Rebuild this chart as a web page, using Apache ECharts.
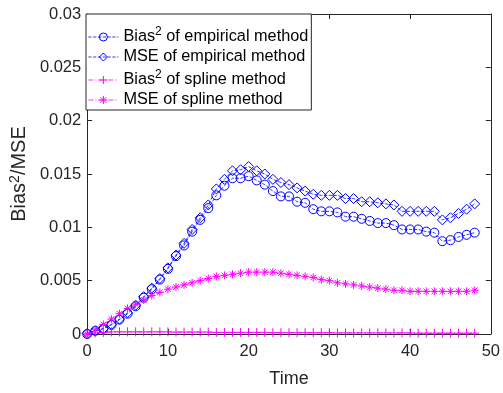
<!DOCTYPE html>
<html>
<head>
<meta charset="utf-8">
<script src="https://cdn.jsdelivr.net/npm/echarts@6/dist/echarts.min.js"></script>
<style>
html,body{margin:0;padding:0;background:#fff;}
#chart{width:503px;height:393px;}
</style>
</head>
<body>
<div id="chart"></div>
<script>
// ---- data ----
var time = [0,1,2,3,4,5,6,7,8,9,10,11,12,13,14,15,16,17,18,19,20,21,22,23,24,25,26,27,28,29,30,31,32,33,34,35,36,37,38,39,40,41,42,43,44,45,46,47,48];
var biasEmpirical = [0,0.0003,0.0005,0.00085,0.00135,0.0019,0.0026,0.0034,0.0042,0.0051,0.0061,0.0073,0.0083,0.0096,0.0107,0.0118,0.0130,0.0139,0.0146,0.0146,0.0148,0.0144,0.0140,0.0134,0.0129,0.0129,0.0124,0.0123,0.0117,0.0115,0.0115,0.0114,0.0110,0.0110,0.0108,0.0106,0.0104,0.0104,0.0102,0.0098,0.0098,0.0098,0.0096,0.0095,0.0087,0.0088,0.0091,0.0093,0.0095];
var mseEmpirical = [0.00005,0.0003,0.0005,0.0009,0.0014,0.0020,0.0027,0.0035,0.0043,0.0052,0.0062,0.0074,0.0085,0.0098,0.0109,0.0121,0.0136,0.0145,0.0153,0.0154,0.0157,0.0153,0.0150,0.0145,0.0142,0.0140,0.0137,0.0134,0.0131,0.0130,0.0130,0.0130,0.0127,0.0127,0.0124,0.0124,0.0123,0.0122,0.0121,0.0115,0.0115,0.0115,0.0115,0.0115,0.0107,0.0109,0.0113,0.0117,0.0122];
var biasSpline = [0,0.0001,0.00015,0.0002,0.0002,0.0002,0.0002,0.0002,0.0002,0.0002,0.0002,0.00018,0.00018,0.00018,0.00018,0.00018,0.00015,0.00015,0.00015,0.00015,0.00015,0.00015,0.00015,0.00012,0.00012,0.00012,0.00012,0.00012,0.00012,0.00012,0.00012,0.0001,0.0001,0.0001,0.0001,0.0001,0.0001,0.0001,0.0001,0.0001,0.0001,0.00008,0.00008,0.00008,0.00008,0.00008,0.00008,0.00008,0.00008];
var mseSpline = [0,0.0004,0.0009,0.0014,0.0019,0.0024,0.0028,0.0032,0.0036,0.0039,0.0042,0.0044,0.0046,0.0048,0.0050,0.0052,0.0054,0.0055,0.0056,0.0057,0.0058,0.0058,0.0058,0.0058,0.0057,0.0056,0.0055,0.0054,0.0053,0.0051,0.0050,0.0048,0.0047,0.0046,0.0045,0.0044,0.0043,0.0042,0.0041,0.0041,0.0040,0.0040,0.0040,0.0040,0.0040,0.0040,0.0040,0.0040,0.0041];
var seriesNames = ['Bias2 of empirical method','MSE of empirical method','Bias2 of spline method','MSE of spline method'];
var xTicks = {min:0, max:50, interval:10};
var yTicks = {min:0, max:0.03, interval:0.005};

function pairs(vals){ return time.map(function(t,i){ return [t, vals[i]]; }); }

var BLUE = '#0000ff', MAG = '#ff00ff', AX = '#262626';
var FONT = 'Liberation Sans, Arial, Helvetica, sans-serif';
var PLUS = 'path://M5,0L5,10M0,5L10,5';
var STAR = 'path://M5,0L5,10M0,5L10,5M1.5,1.5L8.5,8.5M1.5,8.5L8.5,1.5';

function mk(name, vals, color, symbol, size, dash){
  return {
    name: name, type: 'line', xAxisIndex: 0, yAxisIndex: 0,
    data: pairs(vals),
    symbol: symbol, symbolSize: size, showSymbol: true,
    lineStyle: {color: color, width: 0.8, type: dash},
    itemStyle: {color: 'rgba(0,0,0,0)', borderColor: color, borderWidth: 1},
    emphasis: {disabled: true},
    z: 3
  };
}

var legendLabels = {
  'Bias2 of empirical method': '{n|Bias}{s|2}{n| of empirical method}',
  'MSE of empirical method': '{n|MSE of empirical method}',
  'Bias2 of spline method': '{n|Bias}{s|2}{n| of spline method}',
  'MSE of spline method': '{n|MSE of spline method}'
};

var chart = echarts.init(document.getElementById('chart'), null, {renderer: 'canvas'});
var axisCommon = function(){ return {
  axisLine: {show: true, onZero: false, lineStyle: {color: AX, width: 1}},
  axisTick: {show: true, inside: true, length: 5, lineStyle: {color: AX}},
  splitLine: {show: false}
};};

chart.setOption({
  animation: false,
  backgroundColor: '#fff',
  grid: {left: 86, right: 12, top: 14, bottom: 59, containLabel: false},
  legend: {
    orient: 'vertical', left: 86, top: 14,
    padding: [12, 3, 2, 2],
    itemGap: 4, itemWidth: 30, itemHeight: 10,
    borderColor: AX, borderWidth: 1, backgroundColor: '#fff',
    data: seriesNames,
    formatter: function(name){ return legendLabels[name]; },
    lineStyle: {width: 0.8},
    itemStyle: {borderWidth: 1},
    textStyle: {
      color: '#000', fontFamily: FONT,
      rich: {
        n: {fontSize: 16.3, fontFamily: FONT, color: '#000', lineHeight: 22},
        s: {fontSize: 12, fontFamily: FONT, color: '#000', verticalAlign: 'top', lineHeight: 8}
      }
    },
    selectedMode: false
  },
  xAxis: [
    Object.assign(axisCommon(), {
      type: 'value', position: 'bottom', min: xTicks.min, max: xTicks.max, interval: xTicks.interval,
      name: 'Time', nameLocation: 'middle', nameGap: 36,
      nameTextStyle: {fontSize: 18, fontFamily: FONT, color: AX},
      axisLabel: {fontSize: 16.5, fontFamily: FONT, color: AX, margin: 9}
    }),
    Object.assign(axisCommon(), {
      type: 'value', position: 'top', min: xTicks.min, max: xTicks.max, interval: xTicks.interval,
      axisLabel: {show: false}
    })
  ],
  yAxis: [
    Object.assign(axisCommon(), {
      type: 'value', position: 'left', min: yTicks.min, max: yTicks.max, interval: yTicks.interval,
      name: '{n|Bias}{s|2}{n|/MSE}', nameLocation: 'middle', nameGap: 57, nameRotate: 90,
      nameTextStyle: {
        color: AX, fontFamily: FONT,
        rich: {
          n: {fontSize: 20, fontFamily: FONT, color: AX, lineHeight: 22},
          s: {fontSize: 14, fontFamily: FONT, color: AX, verticalAlign: 'top', lineHeight: 8}
        }
      },
      axisLabel: {fontSize: 16.5, fontFamily: FONT, color: AX, margin: 6}
    }),
    Object.assign(axisCommon(), {
      type: 'value', position: 'right', min: yTicks.min, max: yTicks.max, interval: yTicks.interval,
      axisLabel: {show: false}
    })
  ],
  series: [
    mk(seriesNames[0], biasEmpirical, BLUE, 'circle', 9, 'dashed'),
    mk(seriesNames[1], mseEmpirical, BLUE, 'diamond', 10, 'dashed'),
    mk(seriesNames[2], biasSpline, MAG, PLUS, 9, [5,2,1,2]),
    mk(seriesNames[3], mseSpline, MAG, STAR, 8, [5,2,1,2])
  ]
});
</script>
</body>
</html>
